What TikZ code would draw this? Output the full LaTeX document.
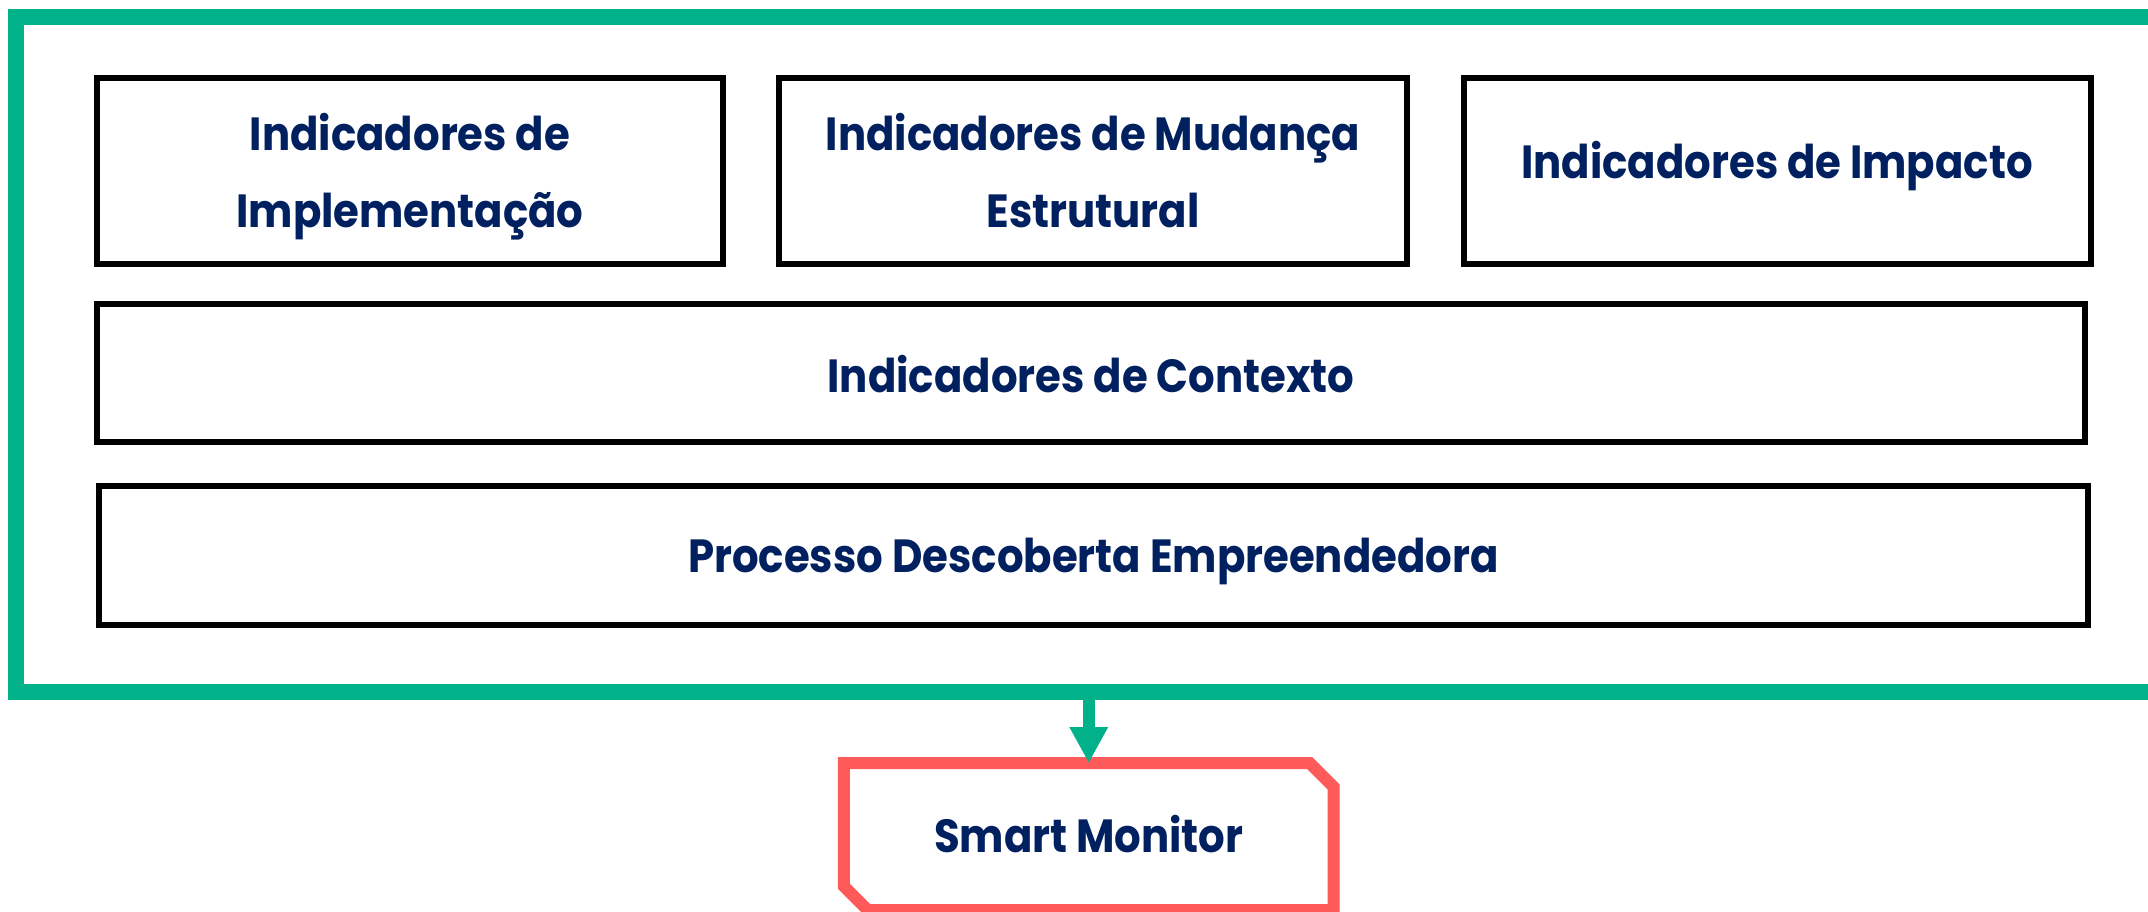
\documentclass[tikz,border=0pt]{standalone}
\usepackage{fontspec}
\setmainfont{Poppins}[FakeStretch=0.9]
\usetikzlibrary{arrows.meta}
\definecolor{frgreen}{RGB}{0,177,137}
\definecolor{smred}{RGB}{255,90,90}
\definecolor{navy}{RGB}{0,32,96}
\tikzset{
  txt/.style={font=\fontsize{46.5}{77}\selectfont\bfseries, text=navy},
  indbox/.style={txt, draw=black, line width=6pt, inner sep=0pt, align=center},
  bl/.style={text height=#1, text depth=0pt},
  frame/.style={draw=frgreen, line width=16pt, inner sep=0pt},
  smbox/.style={txt, inner sep=0pt, minimum width=489.5pt, minimum height=146.7pt},
  smline/.style={draw=smred, line width=12pt, line join=miter},
  link/.style={draw=frgreen, line width=12pt, -{Triangle[width=36pt,length=36pt]}}
}
\begin{document}
\begin{tikzpicture}[x=1pt,y=-1pt]
\clip (0,0) rectangle (2148,911);
\useasboundingbox (0,0) rectangle (2148,911);
\fill[white] (0,0) rectangle (2148,911);
\node[frame, minimum width=2184pt, minimum height=675pt] (frame) at (1108,354.5) {};
\node[indbox, bl=114pt, minimum width=626pt, minimum height=186pt] (impl) at (410,170.5) {Indicadores de\\Implementação};
\node[indbox, bl=114pt, minimum width=628pt, minimum height=186pt] (mud) at (1093,170.5) {Indicadores de Mudança\\Estrutural};
\node[indbox, bl=15.6pt, minimum width=627pt, minimum height=186pt] (imp) at (1777,170.5) {Indicadores de Impacto};
\node[indbox, bl=37.5pt, minimum width=1988pt, minimum height=138pt] (ctx) at (1091,373.25) {Indicadores de Contexto};
\node[indbox, bl=33.6pt, minimum width=1989pt, minimum height=139pt] (ped) at (1093.5,555.5) {Processo Descoberta Empreendedora};
\node[smbox, bl=32.2pt] (sm) at (1088.75,836.65) {Smart Monitor};
\draw[smline] (sm.north west) -- ([xshift=-24pt]sm.north east) -- ([yshift=-24pt]sm.north east)
  -- (sm.south east) -- ([xshift=24pt]sm.south west) -- ([yshift=24pt]sm.south west) -- cycle;
\draw[link] (frame.south -| sm.north) -- (sm.north);
\end{tikzpicture}
\end{document}
